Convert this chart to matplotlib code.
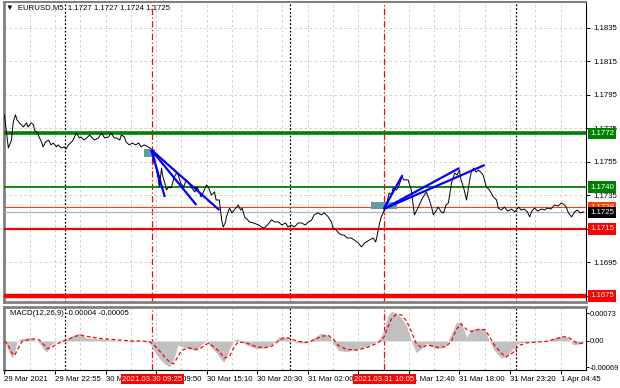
import numpy as np
import matplotlib.pyplot as plt
from matplotlib.patches import Rectangle
from matplotlib.transforms import blended_transform_factory

plt.rcParams['font.family'] = ['Liberation Sans', 'DejaVu Sans']

# ####################################################################
# data (x = M5 bar index from the left edge)

bars = [0, 3, 5, 9, 11, 14, 16, 19, 24, 28, 30, 34, 37, 38, 42, 44, 47, 49, 52, 56,
        59, 62, 66, 68, 72, 76, 78, 81, 85, 87, 91, 95, 97, 101, 104, 108, 110, 114, 119, 123,
        127, 132, 135, 139, 142, 146, 148, 152, 154, 158, 162, 166, 170, 173, 177, 182, 186, 189, 190, 192,
        195, 196, 199, 200, 203, 205, 208, 211, 214, 215, 218, 220, 223, 227, 230, 233, 237, 241, 244, 249,
        253, 256, 258, 262, 266, 268, 272, 275, 277, 280, 281, 285, 288, 291, 294, 296, 299, 301, 304, 308,
        310, 315, 322, 325, 329, 333, 338, 342, 347, 351, 356, 359, 363, 367, 372, 376, 381, 385, 389, 392,
        397, 401, 405, 410, 414, 416, 420, 423, 427, 430, 434, 439, 443, 448, 452, 456, 458, 462, 467, 470,
        472, 475, 477, 480, 482, 485, 487, 490, 492, 496, 499, 503, 506, 511, 515, 519, 522, 524, 528, 530,
        534, 538, 541, 543, 547, 549, 553, 556, 559, 562, 566, 570, 573, 576, 578, 581, 585, 589, 591, 594,
        597, 600, 604, 606, 610, 614, 619, 623, 625, 629, 633, 637, 642, 646, 651, 654, 658, 662, 665, 667,
        671, 675, 680, 684, 687, 692, 696, 701, 705, 709, 711, 714, 718, 722, 725, 729, 733]
close = [1.17831, 1.17711, 1.17634, 1.17681, 1.17783, 1.17831, 1.17801, 1.17783, 1.17759, 1.17783,
         1.17759, 1.17783, 1.17771, 1.17741, 1.17723, 1.17699, 1.17669, 1.17640, 1.17669, 1.17681,
         1.17652, 1.17663, 1.17640, 1.17652, 1.17634, 1.17640, 1.17628, 1.17652, 1.17669, 1.17681,
         1.17723, 1.17693, 1.17699, 1.17681, 1.17693, 1.17711, 1.17699, 1.17681, 1.17693, 1.17723,
         1.17693, 1.17699, 1.17723, 1.17693, 1.17693, 1.17681, 1.17711, 1.17699, 1.17669, 1.17652,
         1.17663, 1.17652, 1.17663, 1.17640, 1.17652, 1.17640, 1.17628, 1.17544, 1.17574, 1.17514,
         1.17443, 1.17401, 1.17514, 1.17472, 1.17425, 1.17383, 1.17401, 1.17395, 1.17443, 1.17460,
         1.17484, 1.17472, 1.17425, 1.17401, 1.17443, 1.17431, 1.17395, 1.17371, 1.17401, 1.17341,
         1.17383, 1.17413, 1.17401, 1.17353, 1.17371, 1.17323, 1.17323, 1.17204, 1.17162, 1.17192,
         1.17222, 1.17275, 1.17246, 1.17263, 1.17281, 1.17293, 1.17263, 1.17275, 1.17222, 1.17204,
         1.17192, 1.17186, 1.17174, 1.17162, 1.17156, 1.17174, 1.17204, 1.17192, 1.17192, 1.17174,
         1.17186, 1.17162, 1.17174, 1.17162, 1.17186, 1.17186, 1.17174, 1.17192, 1.17204, 1.17234,
         1.17246, 1.17234, 1.17246, 1.17222, 1.17192, 1.17156, 1.17144, 1.17126, 1.17114, 1.17114,
         1.17096, 1.17096, 1.17084, 1.17066, 1.17043, 1.17066, 1.17072, 1.17084, 1.17096, 1.17072,
         1.17114, 1.17186, 1.17222, 1.17252, 1.17281, 1.17323, 1.17365, 1.17353, 1.17395, 1.17383,
         1.17401, 1.17460, 1.17443, 1.17443, 1.17383, 1.17234, 1.17263, 1.17281, 1.17323, 1.17341,
         1.17371, 1.17323, 1.17275, 1.17234, 1.17263, 1.17281, 1.17252, 1.17246, 1.17293, 1.17305,
         1.17425, 1.17484, 1.17472, 1.17502, 1.17443, 1.17401, 1.17323, 1.17443, 1.17490, 1.17514,
         1.17490, 1.17502, 1.17484, 1.17472, 1.17401, 1.17383, 1.17341, 1.17323, 1.17275, 1.17263,
         1.17281, 1.17257, 1.17269, 1.17252, 1.17281, 1.17263, 1.17269, 1.17252, 1.17222, 1.17252,
         1.17275, 1.17257, 1.17269, 1.17263, 1.17275, 1.17269, 1.17293, 1.17287, 1.17305, 1.17293,
         1.17281, 1.17246, 1.17222, 1.17252, 1.17263, 1.17246, 1.17252]

# MACD(12,26,9): main (histogram) and signal
macd_bars = [0, 4, 9, 13, 16, 22, 34, 44, 51, 54, 59, 66, 78, 87, 95, 104, 123, 142, 161, 173,
             184, 189, 196, 203, 209, 214, 220, 224, 233, 243, 249, 256, 259, 268, 275, 278, 285, 291, 296, 306,
             319, 329, 338, 347, 353, 359, 370, 382, 391, 401, 410, 416, 423, 433, 446, 458, 467, 475, 481, 485,
             490, 496, 503, 509, 515, 521, 528, 534, 540, 549, 559, 566, 572, 578, 585, 591, 600, 608, 614, 620,
             629, 635, 644, 651, 661, 673, 686, 699, 707, 714, 720, 727, 733]
macd_main = [-0.00002, -0.00020, -0.00045, -0.00030, 0.00000, 0.00007, 0.00008, -0.00005, -0.00025, -0.00028,
             -0.00010, 0.00000, 0.00005, 0.00015, 0.00020, 0.00008, 0.00005, 0.00002, -0.00003, 0.00000,
             -0.00005, -0.00025, -0.00045, -0.00060, -0.00068, -0.00050, -0.00010, -0.00015, -0.00020, -0.00025,
             -0.00010, 0.00000, -0.00010, -0.00030, -0.00050, -0.00055, -0.00020, 0.00003, 0.00005, -0.00010,
             -0.00020, -0.00018, -0.00010, 0.00010, 0.00012, 0.00005, -0.00005, -0.00005, 0.00008, 0.00020,
             0.00015, -0.00005, -0.00025, -0.00028, -0.00022, -0.00015, -0.00005, 0.00005, 0.00030, 0.00065,
             0.00078, 0.00072, 0.00060, 0.00040, 0.00000, -0.00030, -0.00020, -0.00005, -0.00015, -0.00020,
             -0.00012, 0.00020, 0.00048, 0.00050, 0.00010, 0.00030, 0.00034, 0.00030, 0.00000, -0.00025,
             -0.00045, -0.00040, -0.00020, -0.00005, -0.00003, -0.00002, 0.00000, 0.00010, 0.00013, 0.00008,
             -0.00010, -0.00008, -0.00004]
macd_signal = [0.00000, -0.00008, -0.00030, -0.00038, -0.00025, -0.00002, 0.00006, 0.00003, -0.00012, -0.00020,
               -0.00018, -0.00008, 0.00002, 0.00010, 0.00016, 0.00012, 0.00006, 0.00003, 0.00000, 0.00000,
               -0.00002, -0.00010, -0.00025, -0.00042, -0.00055, -0.00060, -0.00040, -0.00025, -0.00018, -0.00022,
               -0.00018, -0.00008, -0.00006, -0.00020, -0.00035, -0.00045, -0.00040, -0.00015, -0.00002, -0.00005,
               -0.00015, -0.00018, -0.00014, 0.00000, 0.00008, 0.00008, 0.00000, -0.00004, 0.00002, 0.00012,
               0.00015, 0.00005, -0.00012, -0.00022, -0.00024, -0.00018, -0.00010, -0.00002, 0.00012, 0.00035,
               0.00058, 0.00070, 0.00068, 0.00052, 0.00025, -0.00005, -0.00018, -0.00012, -0.00012, -0.00017,
               -0.00015, 0.00000, 0.00030, 0.00045, 0.00030, 0.00025, 0.00030, 0.00030, 0.00012, -0.00010,
               -0.00032, -0.00042, -0.00030, -0.00012, -0.00005, -0.00003, -0.00001, 0.00006, 0.00011, 0.00010,
               0.00000, -0.00007, -0.00005]

# time axis labels
tick_bars = [0, 64, 128, 192, 256, 320, 384, 448, 512, 576, 640, 704]
tick_labels = ["29 Mar 2021", "29 Mar 22:55", "30 Mar 04:20", "30 Mar 09:50", "30 Mar 15:10",
               "30 Mar 20:30", "31 Mar 02:00", "31 Mar 07:20", "31 Mar 12:40", "31 Mar 18:00",
               "31 Mar 23:20", "1 Apr 04:45"]
day_breaks = [77, 362, 648]
signal_bars = [187, 481]
signal_times = ["2021.03.30 09:25", "2021.03.31 10:05"]

# horizontal levels
green_levels = [1.1772, 1.1740]
red_levels = [1.1715, 1.1675]
ask_level = 1.1728
bid_level = 1.1725
price_ticks = [1.1675, 1.1695, 1.1715, 1.1735, 1.1755, 1.1775, 1.1795, 1.1815, 1.1835]
hidden_ticks = [1.1675, 1.1715]   # fully covered by the level boxes
macd_ticks = [-0.00069, 0.0, 0.00073]
macd_tick_labels = ["-0.00069", "0.00", "0.00073"]

# trend lines drawn on the chart (start point, end points)
trend_start = [(186, 1.17622), (480, 1.17269)]
trend_ends = [[(203, 1.17341), (243, 1.17293), (272, 1.17263)],
              [(504, 1.17472), (576, 1.17514), (608, 1.17532)]]
# entry boxes (bar from, bar to, low, high)
entry_boxes = [(177, 191, 1.17580, 1.17628), (464, 497, 1.17269, 1.17311)]

# ####################################################################
W, H = 620, 388
fig = plt.figure(figsize=(W / 100, H / 100), dpi=100)
ax = fig.add_axes([4 / W, 1 - 302 / H, 582 / W, 300 / H])
ax2 = fig.add_axes([4 / W, 1 - 370 / H, 582 / W, 63 / H])

fs = 5.6
grid_kw = dict(color='#c8c8c8', lw=0.6, ls=(0, (3, 3)), zorder=0)

for a in (ax, ax2):
    a.set_xlim(-0.5, 736.2)
    for v in range(32, 737, 32):
        a.axvline(v, **grid_kw)
    for v in day_breaks:
        a.axvline(v, color='black', lw=0.9, ls=(0, (1.5, 1.5)), zorder=1)
    for v in signal_bars:
        a.axvline(v, color='red', lw=0.9, ls=(0, (5, 2, 1, 2)), zorder=1)
    a.yaxis.tick_right()
    a.tick_params(axis='y', direction='out', length=3, width=0.7, pad=2, labelsize=fs)
    a.spines['left'].set_color('#808080')
    a.spines['left'].set_linewidth(2)
    a.spines['right'].set_linewidth(0.8)

# main price window
ax.set_ylim(1.16714, 1.18505)
ax.set_yticks(price_ticks)
ax.set_yticklabels(["" if p in hidden_ticks else f"{p:.4f}" for p in price_ticks])
for p in price_ticks:
    ax.axhline(p, **grid_kw)
ax.tick_params(axis='x', bottom=False, labelbottom=False)
ax.spines['top'].set_color('#808080')
ax.spines['top'].set_linewidth(1.5)
ax.spines['bottom'].set_color('#808080')
ax.spines['bottom'].set_linewidth(2)

ax.plot(bars, close, color='black', lw=0.7, zorder=4)

yt = blended_transform_factory(ax.transAxes, ax.transData)
box_x = 1 + 4 / 582


def level_box(price, face, z=6):
    ax.text(box_x, price, f"{price:.4f}", transform=yt, fontsize=fs, color='white',
            va='center', ha='left', clip_on=False, zorder=z,
            bbox=dict(boxstyle='square,pad=0.28', fc=face, ec='none'))


ax.axhline(green_levels[0], color='#008000', lw=2.6, zorder=3)
ax.axhline(green_levels[1], color='#008000', lw=1.3, zorder=3)
ax.axhline(ask_level, color='#ff4000', lw=0.8, zorder=3)
ax.axhline(bid_level, color='#b4b4b4', lw=0.9, zorder=3)
ax.axhline(red_levels[0], color='#ff0000', lw=1.6, zorder=3)
ax.axhline(red_levels[1], color='#ff0000', lw=3.2, zorder=3)
for p in green_levels:
    level_box(p, '#008000')
for p in red_levels:
    level_box(p, '#ff0000')
level_box(ask_level, '#ff4000', z=6)
level_box(bid_level, 'black', z=7)

for (x0, x1, lo, hi) in entry_boxes:
    ax.add_patch(Rectangle((x0, lo), x1 - x0, hi - lo, fc='#5f9ea0', ec='none', zorder=4.5))

for start, ends in zip(trend_start, trend_ends):
    for end in ends:
        ax.plot([start[0], end[0]], [start[1], end[1]], color='#0000ff', lw=1.6,
                solid_capstyle='butt', zorder=5)

fig.text(6 / W, 1 - 8 / H, "\u25bc  EURUSD,M5  1.1727 1.1727 1.1724 1.1725",
         fontsize=fs, va='center', ha='left')

# MACD window
ax2.set_ylim(-0.00076, 0.00089)
ax2.set_yticks(macd_ticks)
ax2.set_yticklabels(macd_tick_labels)
ax2.tick_params(axis='y', length=2, pad=0.8, labelsize=5.3)
ax2.spines['top'].set_color('#808080')
ax2.spines['top'].set_linewidth(2)
ax2.spines['bottom'].set_linewidth(0.8)
ax2.fill_between(macd_bars, 0, macd_main, color='#c0c0c0', lw=0, zorder=2)
ax2.plot(macd_bars, macd_signal, color='#ff0000', lw=0.9, ls=(0, (3, 2)), zorder=3)
ax2.text(6 / 582, 0.9, "MACD(12,26,9) -0.00004 -0.00005", transform=ax2.transAxes,
         fontsize=fs, va='center', ha='left')

ax2.set_xticks(tick_bars)
ax2.set_xticklabels(tick_labels, ha='left')
ax2.tick_params(axis='x', direction='out', length=3, width=0.7, pad=1.5, labelsize=fs)

xt = blended_transform_factory(ax2.transData, ax2.transAxes)
for b, s in zip(signal_bars, signal_times):
    ax2.text(b, -0.145, s, transform=xt, fontsize=fs, color='white', ha='center', va='center',
             clip_on=False, zorder=8, bbox=dict(boxstyle='square,pad=0.2', fc='#ff0000', ec='none'))

plt.savefig("out.png", dpi=100, facecolor='white')
